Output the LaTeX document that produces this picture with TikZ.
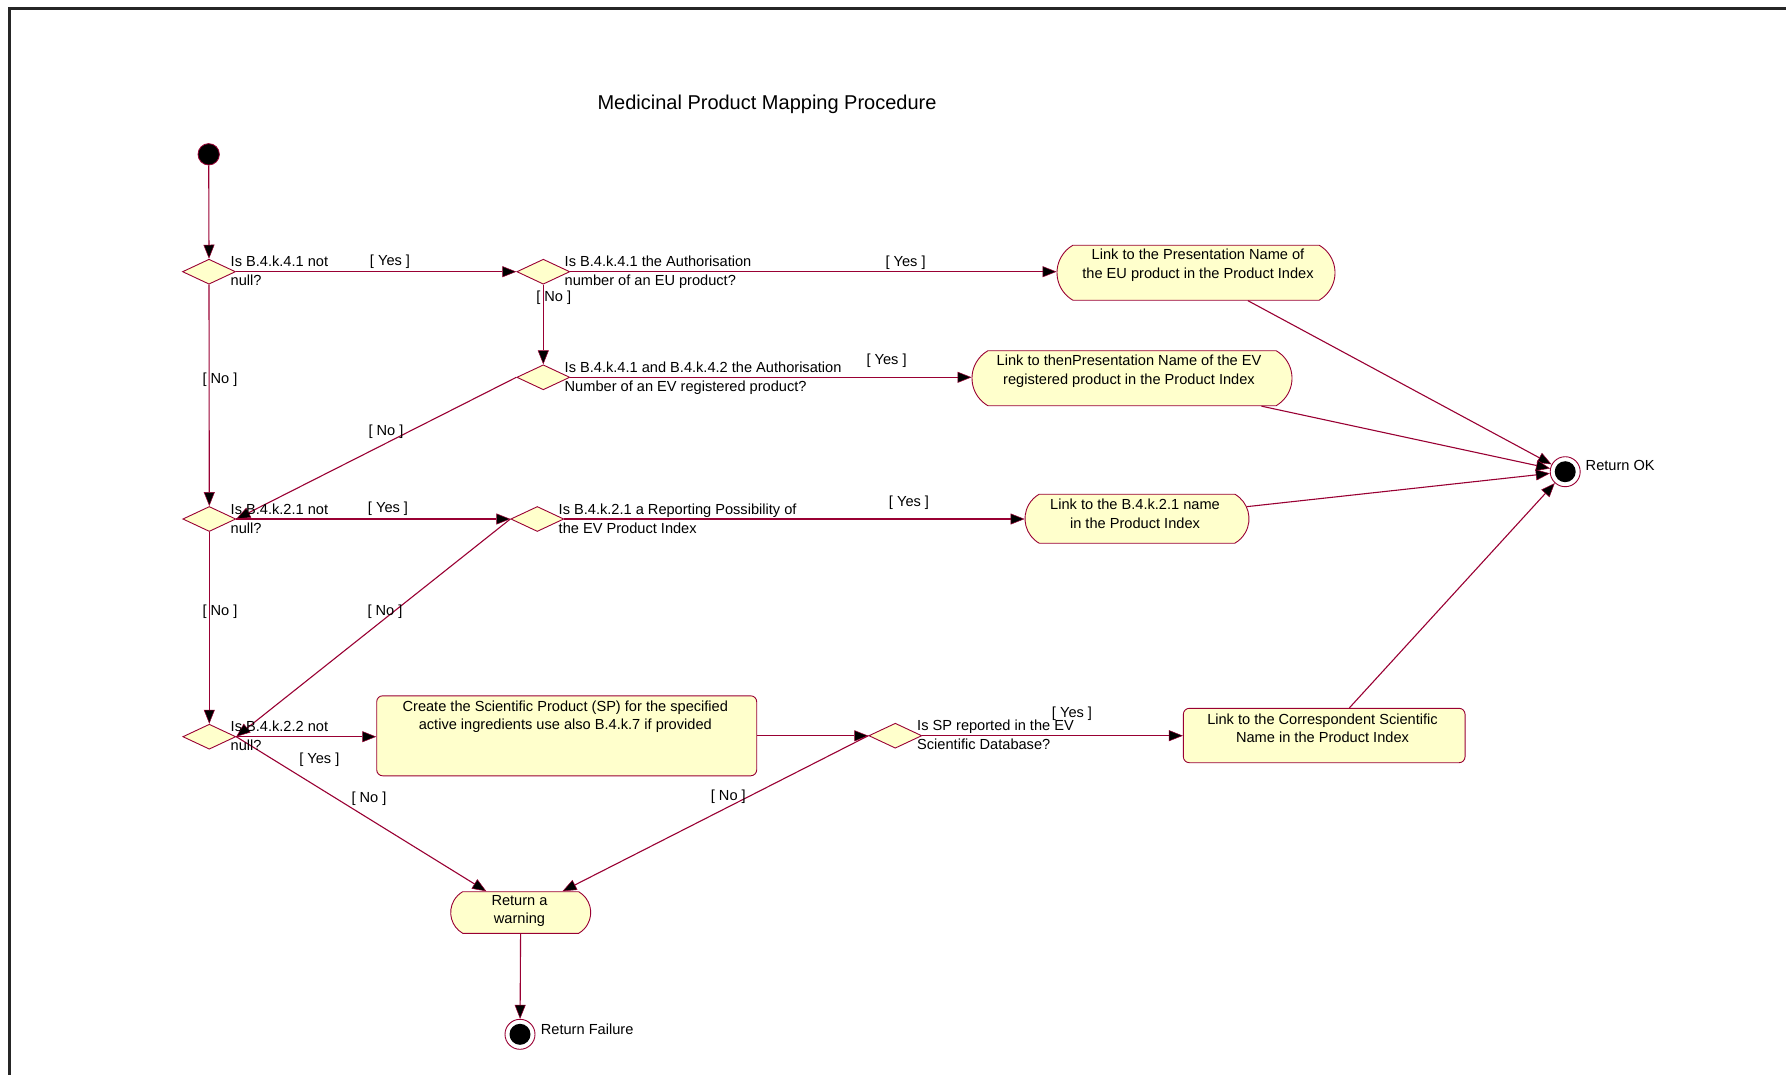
\documentclass[tikz,border=0pt]{standalone}
\usepackage{fontspec}
\setmainfont{Liberation Sans}
\usetikzlibrary{shapes.geometric,shapes.misc,arrows.meta}
\definecolor{rose}{RGB}{153,0,51}
\definecolor{fillY}{RGB}{255,255,204}
\begin{document}
\begin{tikzpicture}[x=1pt,y=-1pt,
  every node/.style={font=\fontsize{14.6}{19}\selectfont},
  conn/.style={draw=rose, line width=1.1pt, -{Triangle[length=14pt,width=11pt,fill=black,line width=0.5pt]}},
  dec/.style={diamond, draw=rose, fill=fillY, line width=0.9pt, minimum width=53pt, minimum height=25pt, inner sep=0pt, aspect=2.12},
  stad/.style={rounded rectangle, rounded rectangle arc length=120, draw=rose, fill=fillY, line width=0.9pt, inner sep=0pt},
  rbox/.style={rectangle, rounded corners=6pt, draw=rose, fill=fillY, line width=0.9pt, inner sep=0pt},
  txt/.style={inner sep=0pt, align=center, anchor=base},
  qtxt/.style={inner sep=0pt, align=left, anchor=base west},
  guard/.style={inner sep=0pt, anchor=center},
  endnode/.style={circle, draw=rose, fill=white, line width=0.9pt, minimum size=30pt, inner sep=0pt,
     path picture={\fill[black] (path picture bounding box.center) circle (10.5pt);}},
]
\useasboundingbox (0,0) rectangle (1786,1074);
\draw[line width=2.5pt, black!85] (9.5,8.5) rectangle (1800,1090);

\node[anchor=base west, inner sep=0pt, font=\fontsize{20}{24}\selectfont] (title) at (597.3,109.3) {Medicinal Product Mapping Procedure};

% start
\node[circle, fill=black, draw=rose, line width=0.8pt, minimum size=21.4pt, inner sep=0pt] (start) at (208.7,154.3) {};

% decisions
\node[dec] (D1) at (209,271.7) {};
\node[dec] (D2) at (543.3,271.7) {};
\node[dec] (D3) at (543.3,377.3) {};
\node[dec] (D4) at (209.3,519) {};
\node[dec] (D5) at (537.3,519) {};
\node[dec] (D6) at (209.3,736.7) {};
\node[dec] (D7) at (895.3,735.7) {};

% activities
\node[stad, minimum width=278pt, minimum height=55pt] (A1) at (1196,272.7) {};
\node[stad, minimum width=320pt, minimum height=55pt] (A2) at (1132,378.2) {};
\node[stad, minimum width=224pt, minimum height=49pt] (A3) at (1137,518.7) {};
\node[rbox, minimum width=380pt, minimum height=80pt] (A4) at (566.7,735.8) {};
\node[rbox, minimum width=281.7pt, minimum height=54.4pt] (A5) at (1324.2,735.5) {};
\node[stad, minimum width=140pt, minimum height=41.6pt] (W) at (520.7,912.5) {};

% ends
\node[endnode] (ok) at (1565.2,471.7) {};
\node[endnode] (fail) at (520,1034.3) {};

% connectors
\draw[conn] (start) -- (D1.north);
\draw[conn] (D1.east) -- (D2.west);
\draw[conn] (D1.south) -- (D4.north);
\draw[conn] (D2.east) -- (D2.east -| A1.west);
\draw[conn] (D2.south) -- (D3.north);
\draw[conn] (D3.east) -- (D3.east -| A2.west);
\draw[conn] (D3.west) -- (D4.east);
\draw[conn] (D4.east) -- (D5.west);
\draw[conn] (D4.south) -- (D6.north);
\draw[conn] (D5.east) -- (D5.east -| A3.west);
\draw[conn] (D5.west) -- (D6.east);
\draw[conn] (D6.east) -- (D6.east -| A4.west);
\draw[conn] (D6.east) -- (W);
\draw[conn] (A4.east) -- (A4.east -| D7.west);
\draw[conn] (D7.west) -- (W);
\draw[conn] (D7.east) -- (D7.east -| A5.west);
\draw[conn] (A1) -- (ok);
\draw[conn] (A2) -- (ok);
\draw[conn] (A3) -- (ok);
\draw[conn] (A5) -- (ok);
\draw[conn] (W) -- (fail);

% decision texts (base = last line)
\node[qtxt] (Q1) at (230.5,285.5) {Is B.4.k.4.1 not\\null?};
\node[qtxt] (Q2) at (564.5,285.7) {Is B.4.k.4.1 the Authorisation\\number of an EU product?};
\node[qtxt] (Q3) at (564.5,391.5) {Is B.4.k.4.1 and B.4.k.4.2 the Authorisation\\Number of an EV registered product?};
\node[qtxt] (Q4) at (230.5,533.3) {Is B.4.k.2.1 not\\null?};
\node[qtxt] (Q5) at (558.5,533.3) {Is B.4.k.2.1 a Reporting Possibility of\\the EV Product Index};
\node[qtxt] (Q6) at (230.5,750) {Is B.4.k.2.2 not\\null?};
\node[qtxt] (Q7) at (917,749.7) {Is SP reported in the EV\\Scientific Database?};

% activity texts (base = last line)
\node[txt] (T1) at (1198,278.3) {Link to the Presentation Name of\\the EU product in the Product Index};
\node[txt] (T2) at (1129,384) {Link to thenPresentation Name of the EV\\registered product in the Product Index};
\node[txt] (T3) at (1135,528) {Link to the B.4.k.2.1 name\\in the Product Index};
\node[txt, font=\fontsize{14.6}{18}\selectfont] (T4) at (565.3,729.3) {Create the Scientific Product (SP) for the specified\\active ingredients use also B.4.k.7 if provided};
\node[txt, font=\fontsize{14.6}{18}\selectfont] (T5) at (1322.5,742.3) {Link to the Correspondent Scientific\\Name in the Product Index};
\node[txt, font=\fontsize{14.6}{18}\selectfont] (TW) at (519.5,923.3) {Return a\\warning};

% end labels
\node[qtxt] (Lok) at (1585.5,470) {Return OK};
\node[qtxt] (Lfail) at (540.7,1034.3) {Return Failure};

% guards
\node[guard] (g1) at (390,261.7) {[ Yes ]};
\node[guard] (g2) at (220,380) {[ No ]};
\node[guard] (g3) at (905.6,262.3) {[ Yes ]};
\node[guard] (g4) at (553.7,297.7) {[ No ]};
\node[guard] (g5) at (886.6,361) {[ Yes ]};
\node[guard] (g6) at (386,431.7) {[ No ]};
\node[guard] (g7) at (388,509) {[ Yes ]};
\node[guard] (g8) at (909,502.3) {[ Yes ]};
\node[guard] (g9) at (220,611.7) {[ No ]};
\node[guard] (g10) at (385,611.7) {[ No ]};
\node[guard] (g11) at (319.3,759.5) {[ Yes ]};
\node[guard] (g12) at (369,798.4) {[ No ]};
\node[guard] (g13) at (728.3,796.7) {[ No ]};
\node[guard] (g14) at (1072,714) {[ Yes ]};
\end{tikzpicture}
\end{document}
